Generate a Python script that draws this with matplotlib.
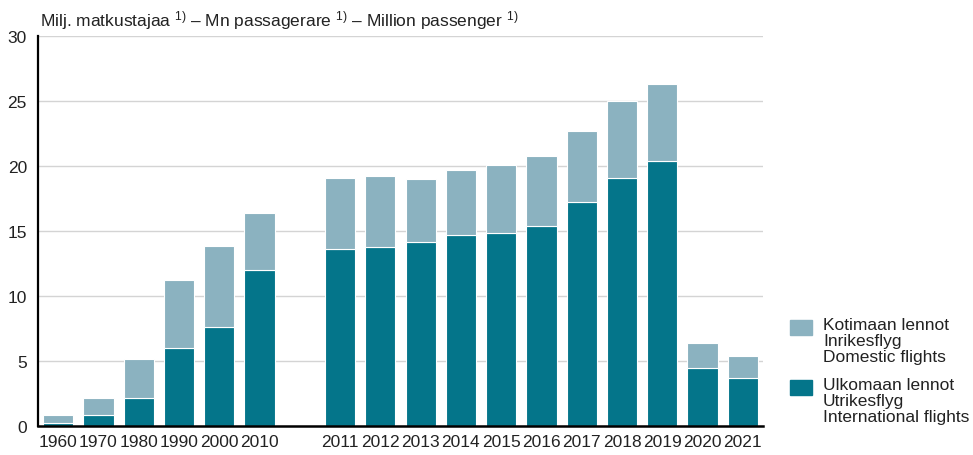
import matplotlib.pyplot as plt
from matplotlib.patches import Rectangle

# ---- data (million passengers) ----
years = ["1960", "1970", "1980", "1990", "2000", "2010",
         "2011", "2012", "2013", "2014", "2015", "2016",
         "2017", "2018", "2019", "2020", "2021"]
international = [0.2, 0.8, 2.1, 6.0, 7.6, 12.0,
                 13.6, 13.75, 14.15, 14.65, 14.85, 15.4,
                 17.25, 19.1, 20.35, 4.45, 3.7]
domestic = [0.65, 1.35, 3.05, 5.2, 6.2, 4.4,
            5.5, 5.45, 4.85, 5.0, 5.2, 5.4,
            5.45, 5.9, 5.95, 1.95, 1.7]

dark = "#04758a"
light = "#8bb2c0"
txt = "#222222"

def main():
    plt.rcParams["font.family"] = ["Liberation Sans", "DejaVu Sans"]
    plt.rcParams["mathtext.fontset"] = "custom"
    plt.rcParams["mathtext.rm"] = "Liberation Sans"
    plt.rcParams["mathtext.it"] = "Liberation Sans"
    plt.rcParams["mathtext.default"] = "regular"

    # a one-slot gap between the decades and the yearly bars
    pos = list(range(6)) + list(range(7, 18))

    fig = plt.figure(figsize=(9.73, 4.56), dpi=100)
    ax = fig.add_axes([38 / 973, 29.3 / 456, 725 / 973, 389.7 / 456])

    ax.bar(pos, international, width=0.75, color=dark,
           edgecolor="white", linewidth=0.8, zorder=3)
    ax.bar(pos, domestic, width=0.75, bottom=international, color=light,
           edgecolor="white", linewidth=0.8, zorder=3)

    ax.set_xlim(-0.5, 17.5)
    ax.set_ylim(0, 30)
    ax.set_yticks(range(0, 31, 5))
    ax.set_xticks(pos)
    ax.set_xticklabels(years)
    ax.tick_params(axis="both", length=0, labelsize=12.5, colors=txt)
    ax.tick_params(axis="y", pad=8)
    ax.tick_params(axis="x", pad=6)
    ax.grid(axis="y", color="#d4d4d4", linewidth=1.0, zorder=0)

    for s in ["top", "right"]:
        ax.spines[s].set_visible(False)
    ax.spines["left"].set_linewidth(1.6)
    ax.spines["bottom"].set_linewidth(1.8)
    ax.spines["left"].set_zorder(4)
    ax.spines["bottom"].set_zorder(4)

    fig.text(40 / 973, 1 - 21 / 456,
             r"Milj. matkustajaa $^{1)}$ – Mn passagerare $^{1)}$ – Million passenger $^{1)}$",
             fontsize=12.5, color=txt, va="center", ha="left")

    # legend drawn by hand so the swatch sits at the first line
    W, H = 973, 456
    fig.patches.append(Rectangle((790 / W, 1 - 336 / H), 22 / W, 15 / H,
                                 transform=fig.transFigure, color=light))
    fig.patches.append(Rectangle((790 / W, 1 - 396 / H), 22 / W, 15 / H,
                                 transform=fig.transFigure, color=dark))
    fig.text(823 / W, 1 - 318 / H,
             "Kotimaan lennot\nInrikesflyg\nDomestic flights",
             fontsize=12.5, color=txt, va="top", ha="left", linespacing=1.08)
    fig.text(823 / W, 1 - 378 / H,
             "Ulkomaan lennot\nUtrikesflyg\nInternational flights",
             fontsize=12.5, color=txt, va="top", ha="left", linespacing=1.08)

    fig.savefig("out.png", dpi=100)

if __name__ == "__main__":
    main()
